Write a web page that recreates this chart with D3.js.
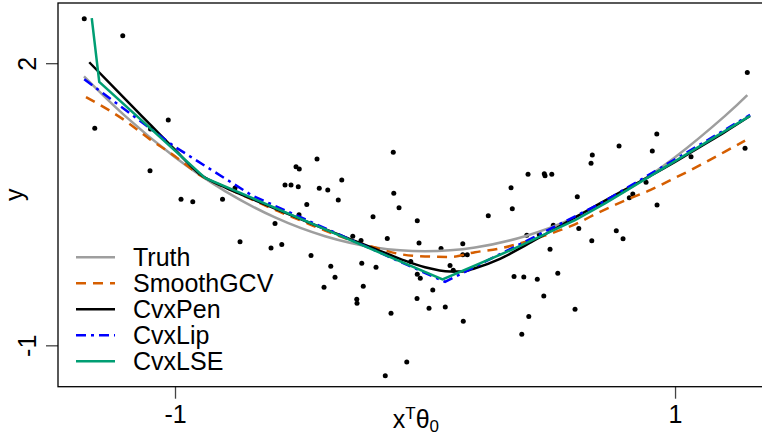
<!DOCTYPE html>
<html>
<head>
<meta charset="utf-8">
<script src="https://cdn.jsdelivr.net/npm/d3@7"></script>
<style>
    body { margin: 0; background: #fff; }
    text { font-family: "Liberation Sans", Arial, Helvetica, sans-serif; }
</style>
</head>
<body>
<svg width="762" height="437"></svg>
<script>
// observed points (x'theta0, y)
var pointsX = [-1.363, -1.209, -1.321, -1.027, -1.100, -0.976, -0.929, -0.810, -0.740, -1.098,
    -0.560, -0.536, -0.507, -0.516, -0.503, -0.432, -0.423, -0.389, -0.333, -0.347,
    -0.127, -0.125, -0.473, -0.104, -0.208, -0.031, -0.504, -0.600, -0.289, -0.256,
    -0.151, -0.024, 0.064, 0.151, -0.573, -0.616, -0.456, -0.253, -0.196, -0.057,
    -0.377, -0.360, -0.031, -0.019, -0.404, -0.247, 0.031, 0.100, 0.113, 0.151,
    0.169, -0.273, -0.272, -0.032, 0.016, 0.081, -0.136, 0.153, -0.073, -0.159,
    0.253, 0.344, 0.349, 0.412, 0.477, 0.480, 0.507, 0.609, 0.407, 0.457,
    0.513, 0.615, 0.500, 0.667, 0.765, 0.792, 0.356, 0.395, 0.449, 0.531,
    0.475, 0.415, 0.387, 0.600, 0.669, 0.664, 0.776, 0.927, 0.909, 1.064,
    1.280, 1.289, 0.884, 0.831, 0.817, 0.928, -0.760];
var pointsY = [2.472, 2.291, 1.308, 1.396, 0.856, 0.552, 0.526, 0.552, 0.100, 1.300,
    0.704, 0.704, 0.686, 0.899, 0.874, 0.981, 0.669, 0.651, 0.757, 0.544,
    1.052, 0.616, 0.498, 0.462, 0.366, 0.324, 0.388, 0.296, 0.161, 0.115,
    0.136, 0.089, 0.030, 0.079, 0.072, 0.036, -0.045, -0.127, -0.169, -0.109,
    -0.159, -0.276, -0.244, -0.286, -0.382, -0.372, -0.411, -0.151, -0.201, -0.038,
    -0.038, -0.510, -0.553, -0.503, -0.606, -0.592, -0.659, -0.744, -1.178, -1.323,
    0.377, 0.675, 0.452, 0.818, 0.824, 0.803, 0.818, 0.579, 0.171, 0.179,
    0.278, 0.243, 0.022, 0.111, 0.217, 0.132, -0.268, -0.273, -0.297, -0.233,
    -0.475, -0.694, -0.883, -0.617, 1.023, 0.935, 1.119, 1.247, 1.066, 1.005,
    1.095, 1.900, 0.733, 0.608, 0.569, 0.491, 0.672];

// fitted curves
var truthX = [-1.364, -1.2, -1.0, -0.8, -0.6, -0.4, -0.2, 0.0, 0.2, 0.4, 0.6, 0.8, 1.0, 1.2, 1.289];
var truthY = [1.86, 1.44, 1.0, 0.64, 0.36, 0.16, 0.04, 0.0, 0.04, 0.16, 0.36, 0.64, 1.0, 1.44, 1.66];

var gcvX = [-1.356, -1.2, -1.1, -1.0, -0.9, -0.8, -0.7, -0.6, -0.5, -0.4, -0.3, -0.2, -0.1, 0.0,
    0.1, 0.2, 0.3, 0.4, 0.5, 0.6, 0.7, 0.8, 0.9, 1.0, 1.1, 1.2, 1.28];
var gcvY = [1.64, 1.39, 1.19, 1.01, 0.81, 0.68, 0.56, 0.44, 0.33, 0.22, 0.12, 0.04, -0.03, -0.055,
    -0.06, -0.01, 0.03, 0.10, 0.185, 0.287, 0.42, 0.54, 0.65, 0.78, 0.915, 1.06, 1.176];

var penX = [-1.343, -1.2, -1.1, -1.0, -0.9, -0.8, -0.7, -0.6, -0.5, -0.4, -0.3, -0.2, -0.1, 0.0,
    0.1, 0.15, 0.2, 0.3, 0.4, 0.5, 0.6, 0.7, 0.8, 0.9, 1.0, 1.1, 1.2, 1.3];
var penY = [2.01, 1.62, 1.35, 1.08, 0.82, 0.68, 0.565, 0.455, 0.345, 0.235, 0.13, 0.025, -0.08, -0.17,
    -0.215, -0.215, -0.18, -0.08, 0.06, 0.21, 0.36, 0.51, 0.655, 0.80, 0.95, 1.11, 1.27, 1.44];

var lipX = [-1.363, -1.0, -0.69, 0.08, 0.7, 1.3];
var lipY = [1.83, 1.11, 0.59, -0.325, 0.505, 1.45];

var lseX = [-1.333, -1.303, -0.88, 0.07, 0.35, 0.6, 0.72, 1.3];
var lseY = [2.48, 1.80, 0.78, -0.30, 0.02, 0.33, 0.51, 1.44];

var legendNames = ['Truth', 'SmoothGCV', 'CvxPen', 'CvxLip', 'CvxLSE'];
var xTicks = [-1, 1];
var yTicks = [-1, 2];

var svg = d3.select('svg');

var plotLeft = 58, plotTop = 3, plotBottom = 386.7, plotRight = 773.8;

var xScale = d3.scaleLinear()
    .domain([-1.468, 1.395])
    .range([plotLeft, plotRight]);

var yScale = d3.scaleLinear()
    .domain([-1.44, 2.64])
    .range([plotBottom, plotTop]);

function zip(xs, ys) {
    return xs.map(function(x, i) { return [x, ys[i]]; });
}

var series = [
    { data: zip(truthX, truthY), color: '#9e9e9e', dash: null, curve: d3.curveNatural },
    { data: zip(gcvX, gcvY), color: '#d55e00', dash: '10,7', curve: d3.curveMonotoneX },
    { data: zip(penX, penY), color: '#000000', dash: null, curve: d3.curveMonotoneX },
    { data: zip(lipX, lipY), color: '#0000ff', dash: '10,5,3,5', curve: d3.curveLinear },
    { data: zip(lseX, lseY), color: '#009e73', dash: null, curve: d3.curveLinear }
];

// points
svg.append('g')
    .selectAll('circle')
    .data(zip(pointsX, pointsY))
    .enter()
    .append('circle')
    .attr('cx', function(d) { return xScale(d[0]); })
    .attr('cy', function(d) { return yScale(d[1]); })
    .attr('r', 2.5)
    .attr('fill', 'black');

// curves
series.forEach(function(s) {
    var line = d3.line()
        .x(function(d) { return xScale(d[0]); })
        .y(function(d) { return yScale(d[1]); })
        .curve(s.curve);
    svg.append('path')
        .datum(s.data)
        .attr('d', line)
        .attr('fill', 'none')
        .attr('stroke', s.color)
        .attr('stroke-width', 2.5)
        .attr('stroke-dasharray', s.dash);
});

// axes
var xAxis = d3.axisBottom(xScale).tickValues(xTicks).tickSize(12);
var yAxis = d3.axisLeft(yScale).tickValues(yTicks).tickSize(12);

var gx = svg.append('g')
    .attr('transform', 'translate(0,' + plotBottom + ')')
    .call(xAxis);
gx.select('.domain').remove();
gx.selectAll('line').attr('stroke', '#444').attr('stroke-width', 1.3);
gx.selectAll('text')
    .attr('y', 36)
    .attr('dy', 0)
    .attr('font-size', 25)
    .attr('fill', 'black')
    .text(function(d) { return d < 0 ? '-' + Math.abs(d) : d; });

var gy = svg.append('g')
    .attr('transform', 'translate(' + plotLeft + ',0)')
    .call(yAxis);
gy.select('.domain').remove();
gy.selectAll('line').attr('stroke', '#444').attr('stroke-width', 1.3);
gy.selectAll('text')
    .attr('x', 0)
    .attr('dy', 0)
    .attr('text-anchor', 'middle')
    .attr('transform', 'translate(-22,0) rotate(-90)')
    .attr('font-size', 25)
    .attr('fill', 'black')
    .text(function(d) { return d < 0 ? '-' + Math.abs(d) : d; });
svg.selectAll('g.tick text').attr('font-family', null);
svg.selectAll('g[font-family]').attr('font-family', null);

// plot box
svg.append('rect')
    .attr('x', plotLeft)
    .attr('y', plotTop)
    .attr('width', plotRight - plotLeft)
    .attr('height', plotBottom - plotTop)
    .attr('fill', 'none')
    .attr('stroke', 'black')
    .attr('stroke-width', 1.3);

// axis titles
svg.append('text')
    .attr('transform', 'translate(23,' + (plotTop + plotBottom) / 2 + ') rotate(-90)')
    .attr('text-anchor', 'middle')
    .attr('font-size', 25)
    .text('y');

var xlab = svg.append('text')
    .attr('x', (plotLeft + plotRight) / 2)
    .attr('y', 428)
    .attr('text-anchor', 'middle')
    .attr('font-size', 25);
xlab.append('tspan').text('x');
xlab.append('tspan').attr('dy', -9).attr('font-size', 17).text('T');
xlab.append('tspan').attr('dy', 9).text('θ');
xlab.append('tspan').attr('dy', 4).attr('font-size', 17).text('0');

// legend
var legend = svg.append('g');
series.forEach(function(s, i) {
    var y = 257.3 + i * 26;
    legend.append('line')
        .attr('x1', 76)
        .attr('x2', 115)
        .attr('y1', y)
        .attr('y2', y)
        .attr('stroke', s.color)
        .attr('stroke-width', 2.5)
        .attr('stroke-dasharray', s.dash);
    legend.append('text')
        .attr('x', 133)
        .attr('y', y)
        .attr('dy', '0.36em')
        .attr('font-size', 25)
        .text(legendNames[i]);
});
</script>
</body>
</html>
